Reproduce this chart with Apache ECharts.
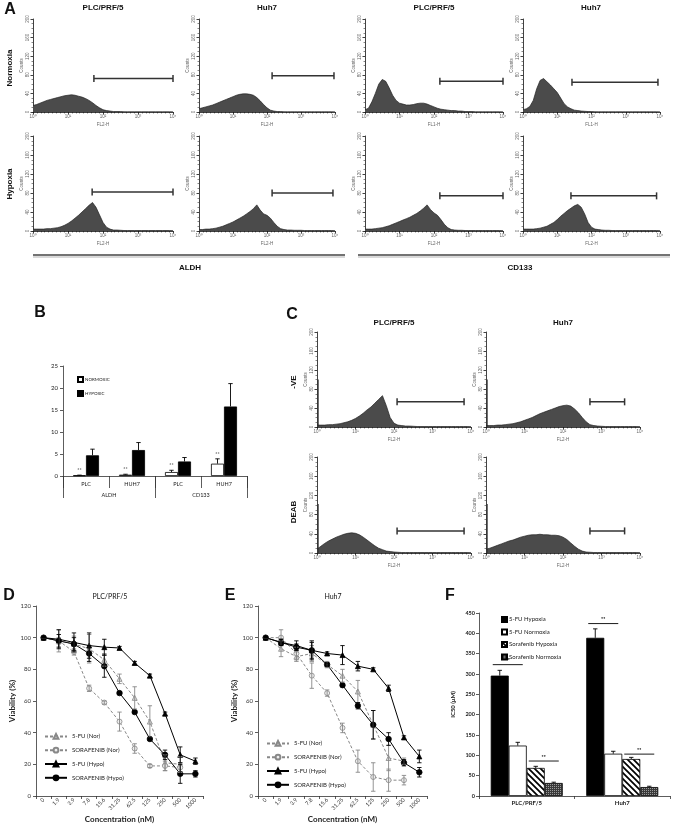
<!DOCTYPE html>
<html>
<head>
<meta charset="utf-8">
<title>Figure</title>
<script src="https://cdn.jsdelivr.net/npm/echarts@6/dist/echarts.min.js"></script>
<style>
  html, body { margin: 0; padding: 0; background: #fff; }
  #chart { width: 674px; height: 835px; }
</style>
</head>
<body>
<div id="chart"></div>
<script>
// ---------- data ----------
// histogram bins, in decades of fluorescence (10^0 .. 10^4)
const histX = [0, 0.1, 0.2, 0.3, 0.4, 0.5, 0.6, 0.7, 0.8, 0.9,
  1, 1.1, 1.2, 1.3, 1.4, 1.5, 1.6, 1.7, 1.8, 1.9,
  2, 2.1, 2.2, 2.3, 2.4, 2.5, 2.6, 2.7, 2.8, 2.9,
  3, 3.1, 3.2, 3.3, 3.4, 3.5, 3.6, 3.7, 3.8, 3.9, 4];

// panel A counts
const aPlcAldhNor = [14, 16, 19, 22, 25, 27, 29, 31, 33, 35, 36, 37, 36, 34, 32, 29, 25, 20, 14, 9,
  5, 3, 2, 1, 1, 1, 0.5, 0.5, 0.5, 0.5, 0.5, 0.5, 0.5, 0.5, 0.5, 0.5, 0.5, 0.5, 0.5, 0.5, 0.5];
const aHuhAldhNor = [7, 9, 11, 13, 15, 18, 21, 24, 27, 30, 33, 36, 38, 39, 39, 38, 36, 31, 24, 16,
  9, 4, 2, 1, 1, 0.5, 0.5, 0.5, 0.5, 0.5, 0.5, 0.5, 0.5, 0.5, 0.5, 0.5, 0.5, 0.5, 0.5, 0.5, 0.5];
const aPlcCdNor = [5, 8, 22, 40, 60, 70, 66, 52, 36, 25, 19, 17, 15, 15, 16, 18, 19, 19, 17, 14,
  11, 8, 6, 5, 4, 3, 3, 2, 2, 1, 1, 1, 0.5, 0.5, 0.5, 0.5, 0.5, 0.5, 0.5, 0.5, 0.5];
const aHuhCdNor = [5, 7, 12, 25, 50, 68, 72, 65, 58, 50, 42, 30, 18, 11, 7, 4, 3, 2, 1.5, 1,
  1, 0.5, 0.5, 0.5, 0.5, 0.5, 0.5, 0.5, 0.5, 0.5, 0.5, 0.5, 0.5, 0.5, 0.5, 0.5, 0.5, 0.5, 0.5, 0.5, 0.5];
const aPlcAldhHyp = [4, 4, 4, 4, 5, 5, 6, 7, 9, 12, 16, 21, 27, 33, 40, 47, 54, 60, 50, 34,
  18, 8, 4, 2, 2, 1.5, 1, 1, 1, 1, 1, 1, 1, 1, 1, 1, 1, 1, 1, 1, 1];
const aHuhAldhHyp = [3, 3, 4, 4, 5, 6, 8, 10, 13, 16, 19, 23, 27, 31, 36, 41, 47, 55, 44, 36,
  33, 27, 18, 10, 5, 3, 2, 2, 1.5, 1.5, 1.5, 1, 1, 1, 1, 1, 1, 1, 1, 1, 1];
const aPlcCdHyp = [4, 4, 4, 5, 6, 7, 9, 11, 14, 17, 20, 23, 26, 29, 33, 37, 42, 48, 55, 45,
  38, 33, 24, 14, 7, 3, 2, 1.5, 1.5, 1, 1, 1, 1, 1, 1, 1, 1, 1, 1, 1, 1];
const aHuhCdHyp = [4, 4, 4, 4, 5, 6, 8, 10, 14, 18, 24, 31, 37, 43, 48, 53, 56, 50, 36, 18,
  8, 4, 3, 2, 1.5, 1.5, 1, 1, 1, 1, 1, 1, 1, 1, 1, 1, 1, 1, 1, 1, 1];
// gates [from decade, to decade, height in counts]
const aGates = [[1.74, 4.0, 72], [2.15, 3.97, 78], [2.17, 4.0, 66], [1.43, 3.94, 64],
  [1.69, 4.0, 82], [2.15, 3.94, 80], [2.17, 4.0, 74], [1.4, 3.9, 74]];

// panel C counts
const cPlcNeg = [4, 4, 4, 5, 5, 6, 7, 9, 11, 14, 18, 23, 29, 36, 42, 50, 58, 66, 45, 20,
  8, 4, 3, 2, 2, 1.5, 1, 1, 1, 1, 1, 1, 1, 1, 1, 1, 1, 1, 1, 1, 1];
const cHuhNeg = [3, 3, 3, 4, 4, 5, 6, 7, 9, 11, 14, 17, 20, 24, 28, 31, 34, 37, 40, 43,
  45, 46, 44, 38, 30, 20, 11, 5, 3, 2, 1.5, 1, 1, 1, 1, 1, 1, 1, 1, 1, 1];
const cPlcDeab = [8, 14, 20, 25, 29, 33, 36, 39, 41, 42, 41, 38, 33, 27, 21, 15, 10, 7, 4, 3,
  2, 1.5, 1, 1, 1, 1, 1, 1, 1, 1, 1, 1, 1, 1, 1, 1, 1, 1, 1, 1, 1];
const cHuhDeab = [8, 10, 13, 16, 19, 22, 25, 27, 30, 33, 35, 37, 38, 38, 39, 38, 38, 37, 37, 36,
  33, 28, 21, 14, 8, 4, 2, 1.5, 1, 1, 1, 1, 1, 1, 1, 1, 1, 1, 1, 1, 1];
// events piled up in the first channel
const cFirstBin = [100, 100, 102, 102];
const cGates = [[2.08, 3.82, 53], [2.7, 3.6, 53], [2.08, 3.82, 46], [2.7, 3.6, 46]];

// panel B
const bCats = ['PLC', 'HUH7', 'PLC', 'HUH7'];
const bGroups = ['ALDH', 'CD133'];
const bNorm = [0.15, 0.3, 0.9, 2.8];
const bNormErr = [0.05, 0.1, 0.4, 1.1];
const bHyp = [4.7, 5.9, 3.3, 15.8];
const bHypErr = [1.4, 1.7, 0.9, 5.2];

// panels D and E
const concLabels = ['0', '1.9', '3.9', '7.8', '15.6', '31.25', '62.5', '125', '250', '500', '1000'];
const dFuNor = [100, 98, 96, 93, 86, 74, 62, 47, 21, 20, null];
const dFuNorErr = [0, 7, 5, 9, 4, 3, 7, 10, 5, 5, 0];
const dSoNor = [100, 98, 91, 68, 59, 47, 30, 19, 19, 18, null];
const dSoNorErr = [0, 2, 2, 2, 1, 6, 3, 1, 3, 3, 0];
const dFuHyp = [100, 99, 97, 95, 94, 93.5, 84, 76, 52, 26, 22];
const dFuHypErr = [0, 6, 6, 8, 5, 1, 1, 1, 1, 5, 2];
const dSoHyp = [100, 98, 96, 90, 82, 65, 53, 36, 26, 14, 14];
const dSoHypErr = [0, 4, 4, 5, 7, 1, 1, 1, 3, 6, 2];

const eFuNor = [100, 93, 88, 90, 83, 76, 66, 45, 24, 22, null];
const eFuNorErr = [0, 5, 3, 5, 2, 4, 7, 9, 8, 2, 0];
const eSoNor = [100, 100, 90, 76, 65, 43, 22, 12, 10, 10, null];
const eSoNorErr = [0, 5, 4, 8, 2, 3, 7, 9, 7, 3, 0];
const eFuHyp = [100, 97, 95, 92, 90, 89, 82, 80, 68, 37, 25];
const eFuHypErr = [0, 2, 3, 6, 1, 6, 3, 1, 2, 1, 4];
const eSoHyp = [100, 97, 94, 92, 83, 70, 57, 45, 36, 21, 15];
const eSoHypErr = [0, 2, 2, 5, 1, 1, 2, 9, 4, 2, 3];

// panel F
const fCats = ['PLC/PRF/5', 'Huh7'];
const fFuHyp = [296, 389];
const fFuHypErr = [13, 22];
const fFuNor = [124, 104];
const fFuNorErr = [8, 6];
const fSoHyp = [69, 91];
const fSoHypErr = [4, 4];
const fSoNor = [32, 22];
const fSoNorErr = [2, 2];
// significance bars [category, first bar, last bar, height]
const fSig = [[0, 0, 1, 323], [0, 2, 3, 86], [1, 0, 1, 424], [1, 2, 3, 103]];

// ---------- building ----------
const ARIAL = 'Liberation Sans, Arial, sans-serif';
const SANS = 'Lato, Open Sans, sans-serif';
const sup = ['\u2070', '\u00b9', '\u00b2', '\u00b3', '\u2074'];

const grids = [], xAxes = [], yAxes = [], series = [], legends = [], graphics = [];

function addGrid(left, top, width, height) {
  grids.push({ left, top, width, height, outerBoundsMode: 'none', containLabel: false });
  return grids.length - 1;
}
function addX(opt) { xAxes.push(opt); return xAxes.length - 1; }
function addY(opt) { yAxes.push(opt); return yAxes.length - 1; }

function addHist(left, top, width, height, counts, gate, xName, firstBin) {
  const gi = addGrid(left, top, width, height);
  const line = { color: '#111', width: 0.8 };
  const xi = addX({
    gridIndex: gi, type: 'value', min: 0, max: 4, interval: 1,
    name: xName, nameLocation: 'middle', nameGap: 10,
    nameTextStyle: { fontSize: 4.5, color: '#666', fontFamily: ARIAL },
    axisLine: { show: true, onZero: false, lineStyle: line },
    axisTick: { show: true, length: 2.5, lineStyle: line },
    minorTick: { show: true, splitNumber: 9, length: 1.5, lineStyle: { color: '#111', width: 0.5 } },
    axisLabel: { fontSize: 4.5, color: '#666', margin: 2.5, fontFamily: ARIAL, formatter: v => '10' + sup[v] },
    splitLine: { show: false }
  });
  const yi = addY({
    gridIndex: gi, type: 'value', min: 0, max: 200, interval: 40,
    name: 'Counts', nameLocation: 'middle', nameGap: 8,
    nameTextStyle: { fontSize: 4.5, color: '#666', fontFamily: ARIAL },
    axisLine: { show: true, lineStyle: line },
    axisTick: { show: true, length: 2.5, lineStyle: line },
    minorTick: { show: true, splitNumber: 4, length: 1.5, lineStyle: { color: '#111', width: 0.5 } },
    axisLabel: { fontSize: 4.5, color: '#666', margin: 2.5, rotate: 90, fontFamily: ARIAL },
    splitLine: { show: false }
  });
  series.push({
    type: 'line', xAxisIndex: xi, yAxisIndex: yi, silent: true,
    data: histX.map((x, i) => [x, counts[i]]),
    symbol: 'none', lineStyle: { color: '#222', width: 0.7 },
    areaStyle: { color: '#4b4b4b', opacity: 1 }
  });
  if (firstBin) {
    series.push({
      type: 'custom', xAxisIndex: xi, yAxisIndex: yi, silent: true, clip: false, z: 3,
      data: [[0, firstBin]],
      renderItem: (params, api) => {
        const b = api.coord([0, 0]), t = api.coord([0, api.value(1)]);
        return { type: 'line', shape: { x1: b[0] + 1, y1: b[1], x2: t[0] + 1, y2: t[1] },
          style: { stroke: '#333', lineWidth: 1.4 } };
      }
    });
  }
  series.push({
    type: 'custom', xAxisIndex: xi, yAxisIndex: yi, silent: true, clip: false, z: 4,
    data: [gate],
    renderItem: (params, api) => {
      const p1 = api.coord([api.value(0), api.value(2)]);
      const p2 = api.coord([api.value(1), api.value(2)]);
      const c = 3.5, st = { stroke: '#333', lineWidth: 1.5 };
      return {
        type: 'group', children: [
          { type: 'line', shape: { x1: p1[0], y1: p1[1], x2: p2[0], y2: p2[1] }, style: st },
          { type: 'line', shape: { x1: p1[0], y1: p1[1] - c, x2: p1[0], y2: p1[1] + c }, style: st },
          { type: 'line', shape: { x1: p2[0], y1: p2[1] - c, x2: p2[0], y2: p2[1] + c }, style: st }
        ]
      };
    }
  });
}

// error bars on a category axis; upOnly for bar charts; offset in px from category centre
function addErr(xi, yi, vals, errs, color, offset, upOnly, stars) {
  const data = [];
  vals.forEach((v, i) => {
    if (v == null) return;
    data.push([i, upOnly ? v : v - errs[i], v + errs[i]]);
  });
  series.push({
    type: 'custom', xAxisIndex: xi, yAxisIndex: yi, silent: true, clip: false, z: 6,
    encode: { x: 0, y: [1, 2] }, data,
    renderItem: (params, api) => {
      const lo = api.coord([api.value(0), api.value(1)]);
      const hi = api.coord([api.value(0), api.value(2)]);
      const x = lo[0] + offset, w = 2.2, st = { stroke: color, lineWidth: 0.9 };
      const kids = [
        { type: 'line', shape: { x1: x, y1: lo[1], x2: x, y2: hi[1] }, style: st },
        { type: 'line', shape: { x1: x - w, y1: hi[1], x2: x + w, y2: hi[1] }, style: st }
      ];
      if (!upOnly) kids.push({ type: 'line', shape: { x1: x - w, y1: lo[1], x2: x + w, y2: lo[1] }, style: st });
      if (stars) kids.push({ type: 'text', x: x, y: hi[1] - 2,
        style: { text: '**', font: '5px ' + SANS, fill: '#222', align: 'center', verticalAlign: 'bottom' } });
      return { type: 'group', children: kids };
    }
  });
}

// ---- panel A ----
const aCols = [[33, 140], [199, 136], [365, 138], [523, 137]];
const aRow1 = [aPlcAldhNor, aHuhAldhNor, aPlcCdNor, aHuhCdNor];
const aRow2 = [aPlcAldhHyp, aHuhAldhHyp, aPlcCdHyp, aHuhCdHyp];
aCols.forEach((c, i) => {
  addHist(c[0], 19, c[1], 93, aRow1[i], aGates[i], i < 2 ? 'FL2-H' : 'FL1-H');
  addHist(c[0], 136, c[1], 95, aRow2[i], aGates[i + 4], 'FL2-H');
});

// ---- panel C ----
const cCols = [[317, 154], [486, 154]];
addHist(cCols[0][0], 332, cCols[0][1], 95, cPlcNeg, cGates[0], 'FL2-H', cFirstBin[0]);
addHist(cCols[1][0], 332, cCols[1][1], 95, cHuhNeg, cGates[1], 'FL2-H', cFirstBin[1]);
addHist(cCols[0][0], 457, cCols[0][1], 96, cPlcDeab, cGates[2], 'FL2-H', cFirstBin[2]);
addHist(cCols[1][0], 457, cCols[1][1], 96, cHuhDeab, cGates[3], 'FL2-H', cFirstBin[3]);

// ---- panel B ----
(function () {
  const gi = addGrid(63, 366, 184, 110);
  const axLine = { color: '#333', width: 0.8 };
  const xi = addX({
    gridIndex: gi, type: 'category', data: bCats, position: 'bottom',
    axisLine: { show: true, lineStyle: axLine },
    axisTick: { show: true, length: 12, lineStyle: axLine },
    axisLabel: { fontSize: 5.5, color: '#222', margin: 5, interval: 0 }
  });
  addX({
    gridIndex: gi, type: 'category', data: bGroups, position: 'bottom',
    axisLine: { show: false },
    axisTick: { show: true, length: 22, lineStyle: axLine },
    axisLabel: { fontSize: 5.5, color: '#222', margin: 16, interval: 0 }
  });
  const yi = addY({
    gridIndex: gi, type: 'value', min: 0, max: 25, interval: 5,
    axisLine: { show: true, lineStyle: axLine },
    axisTick: { show: true, length: 3, lineStyle: axLine },
    axisLabel: { fontSize: 6, color: '#222', margin: 5 },
    splitLine: { show: false }
  });
  series.push({ type: 'bar', name: 'NORMOXIC', xAxisIndex: xi, yAxisIndex: yi, data: bNorm,
    barWidth: 13, barGap: '0%', itemStyle: { color: '#fff', borderColor: '#000', borderWidth: 0.8 } });
  series.push({ type: 'bar', name: 'HYPOXIC', xAxisIndex: xi, yAxisIndex: yi, data: bHyp,
    barWidth: 13, barGap: '0%', itemStyle: { color: '#000', borderColor: '#000', borderWidth: 0.8 } });
  addErr(xi, yi, bNorm, bNormErr, '#000', -6.5, true, true);
  addErr(xi, yi, bHyp, bHypErr, '#000', 6.5, true, false);
  legends.push({ left: 72, top: 371, orient: 'vertical', itemWidth: 5, itemHeight: 5, itemGap: 7,
    icon: 'rect', selectedMode: false, data: ['NORMOXIC', 'HYPOXIC'],
    textStyle: { fontSize: 4.5, color: '#222', padding: [0, 0, 0, -3] } });
})();

// ---- panels D and E ----
const curveNames = ['5-FU (Nor)', 'SORAFENIB (Nor)', '5-FU (Hypo)', 'SORAFENIB (Hypo)'];
function addCurves(left, width, vals, errs, legendTop) {
  const gi = addGrid(left, 606, width, 190);
  const axLine = { color: '#333', width: 0.8 };
  const xi = addX({
    gridIndex: gi, type: 'category', data: concLabels, boundaryGap: true,
    name: 'Concentration (nM)', nameLocation: 'middle', nameGap: 19,
    nameTextStyle: { fontSize: 8, fontWeight: 'bold', color: '#222' },
    axisLine: { show: true, lineStyle: axLine },
    axisTick: { show: true, length: 3, lineStyle: axLine },
    axisLabel: { rotate: 45, fontSize: 5.5, color: '#333', interval: 0, margin: 3 }
  });
  const yi = addY({
    gridIndex: gi, type: 'value', min: 0, max: 120, interval: 20,
    name: 'Viability (%)', nameLocation: 'middle', nameGap: 20,
    nameTextStyle: { fontSize: 8, fontWeight: 'bold', color: '#222' },
    axisLine: { show: true, lineStyle: axLine },
    axisTick: { show: true, length: 3, lineStyle: axLine },
    axisLabel: { fontSize: 6, color: '#333', margin: 5 },
    splitLine: { show: false }
  });
  const looks = [
    { symbol: 'triangle', size: 5, dash: [3, 2], line: '#888', fill: '#ddd' },
    { symbol: 'circle', size: 5, dash: [3, 2], line: '#888', fill: '#eee' },
    { symbol: 'triangle', size: 5, dash: 'solid', line: '#000', fill: '#000' },
    { symbol: 'circle', size: 5.5, dash: 'solid', line: '#000', fill: '#000' }
  ];
  curveNames.forEach((n, k) => {
    const lk = looks[k];
    series.push({
      type: 'line', name: n, xAxisIndex: xi, yAxisIndex: yi, data: vals[k],
      symbol: lk.symbol, symbolSize: lk.size, showSymbol: true, z: 3,
      lineStyle: { color: lk.line, width: 1, type: lk.dash },
      itemStyle: { color: lk.fill, borderColor: lk.line, borderWidth: 0.8 }
    });
    addErr(xi, yi, vals[k], errs[k], lk.line, 0, false, false);
  });
  legends.push({ left: left + 3, top: legendTop, orient: 'vertical', itemWidth: 22, itemHeight: 6, itemGap: 7,
    selectedMode: false, data: curveNames, textStyle: { fontSize: 6, color: '#222' } });
}
addCurves(36, 167, [dFuNor, dSoNor, dFuHyp, dSoHyp], [dFuNorErr, dSoNorErr, dFuHypErr, dSoHypErr], 728);
addCurves(258, 169, [eFuNor, eSoNor, eFuHyp, eSoHyp], [eFuNorErr, eSoNorErr, eFuHypErr, eSoHypErr], 735);

// ---- panel F ----
function stripes() {
  const c = document.createElement('canvas'); c.width = 6; c.height = 6;
  const g = c.getContext('2d');
  g.fillStyle = '#fff'; g.fillRect(0, 0, 6, 6);
  g.strokeStyle = '#000'; g.lineWidth = 1.7;
  g.beginPath();
  g.moveTo(-1, -1); g.lineTo(7, 7);
  g.moveTo(-4, 2); g.lineTo(4, 10);
  g.moveTo(2, -4); g.lineTo(10, 4);
  g.stroke();
  return c;
}
function checks() {
  const c = document.createElement('canvas'); c.width = 2; c.height = 2;
  const g = c.getContext('2d');
  g.fillStyle = '#3a3a3a'; g.fillRect(0, 0, 2, 2);
  g.fillStyle = '#9a9a9a'; g.fillRect(0, 0, 1, 1);
  return c;
}
(function () {
  const gi = addGrid(479, 613, 191, 183);
  const axLine = { color: '#333', width: 0.8 };
  const xi = addX({
    gridIndex: gi, type: 'category', data: fCats,
    axisLine: { show: true, lineStyle: axLine },
    axisTick: { show: true, length: 3, lineStyle: axLine },
    axisLabel: { fontSize: 6, fontWeight: 'bold', color: '#222', margin: 4 }
  });
  const yi = addY({
    gridIndex: gi, type: 'value', min: 0, max: 450, interval: 50,
    name: 'IC50 (\u03bcM)', nameLocation: 'middle', nameGap: 23,
    nameTextStyle: { fontSize: 6, fontWeight: 'bold', color: '#222' },
    axisLine: { show: true, lineStyle: axLine },
    axisTick: { show: true, length: 3, lineStyle: axLine },
    axisLabel: { fontSize: 5.5, fontWeight: 'bold', color: '#222', margin: 4 },
    splitLine: { show: false }
  });
  const fSeries = [
    ['5-FU Hypoxia', fFuHyp, fFuHypErr, '#000'],
    ['5-FU Normoxia', fFuNor, fFuNorErr, '#fff'],
    ['Sorafenib Hypoxia', fSoHyp, fSoHypErr, { image: stripes(), repeat: 'repeat' }],
    ['Sorafenib Normoxia', fSoNor, fSoNorErr, { image: checks(), repeat: 'repeat' }]
  ];
  fSeries.forEach((s, k) => {
    series.push({ type: 'bar', name: s[0], xAxisIndex: xi, yAxisIndex: yi, data: s[1],
      barWidth: 18, barGap: '0%', itemStyle: { color: s[3], borderColor: '#000', borderWidth: 0.8 } });
    addErr(xi, yi, s[1], s[2], '#000', (k - 1.5) * 18, true, false);
  });
  series.push({
    type: 'custom', xAxisIndex: xi, yAxisIndex: yi, silent: true, clip: false, z: 7,
    encode: { x: 0, y: 3 }, data: fSig,
    renderItem: (params, api) => {
      const p = api.coord([api.value(0), api.value(3)]);
      const x1 = p[0] + (api.value(1) - 2) * 18 + 2;
      const x2 = p[0] + (api.value(2) - 1) * 18 - 4;
      return { type: 'group', children: [
        { type: 'line', shape: { x1, y1: p[1], x2, y2: p[1] }, style: { stroke: '#000', lineWidth: 0.9 } },
        { type: 'text', x: (x1 + x2) / 2, y: p[1] - 1.5,
          style: { text: '**', font: 'bold 5px ' + SANS, fill: '#000', align: 'center', verticalAlign: 'bottom' } }
      ] };
    }
  });
  legends.push({ left: 496, top: 611, orient: 'vertical', itemWidth: 5, itemHeight: 5, itemGap: 5.5,
    icon: 'rect', selectedMode: false, data: fSeries.map(s => s[0]),
    textStyle: { fontSize: 6, color: '#222', padding: [0, 0, 0, -3] } });
})();

// ---------- labels and decorations ----------
function txt(x, y, text, font, rot) {
  return { type: 'text', x, y, rotation: rot || 0, silent: true,
    style: { text, font, fill: '#111', align: 'center', verticalAlign: 'middle' } };
}
function rule(x1, x2, y) {
  return [
    { type: 'line', silent: true, shape: { x1, y1: y + 2, x2, y2: y + 2 }, style: { stroke: '#ccc', lineWidth: 1.5 } },
    { type: 'line', silent: true, shape: { x1, y1: y, x2, y2: y }, style: { stroke: '#444', lineWidth: 1.5 } }
  ];
}
const letter = 'bold 16px ' + ARIAL;
const head = 'bold 8px ' + ARIAL;
graphics.push(txt(10, 10, 'A', letter));
graphics.push(txt(103, 8, 'PLC/PRF/5', head));
graphics.push(txt(267, 8, 'Huh7', head));
graphics.push(txt(434, 8, 'PLC/PRF/5', head));
graphics.push(txt(591, 8, 'Huh7', head));
graphics.push(txt(10, 68, 'Normoxia', head, Math.PI / 2));
graphics.push(txt(10, 184, 'Hypoxia', head, Math.PI / 2));
graphics.push(...rule(33, 345, 255), ...rule(358, 670, 255));
graphics.push(txt(190, 268, 'ALDH', head));
graphics.push(txt(520, 268, 'CD133', head));

graphics.push(txt(40, 313, 'B', letter));
graphics.push(txt(292, 315, 'C', letter));
graphics.push(txt(394, 323, 'PLC/PRF/5', head));
graphics.push(txt(563, 323, 'Huh7', head));
graphics.push(txt(294, 382, '-VE', head, Math.PI / 2));
graphics.push(txt(294, 512, 'DEAB', head, Math.PI / 2));

graphics.push(txt(9, 596, 'D', letter));
graphics.push(txt(230, 596, 'E', letter));
graphics.push(txt(450, 596, 'F', letter));
graphics.push(txt(110, 597, 'PLC/PRF/5', '7px ' + SANS));
graphics.push(txt(333, 597, 'Huh7', '7px ' + SANS));

const chart = echarts.init(document.getElementById('chart'), null, { renderer: 'canvas', width: 674, height: 835 });
chart.setOption({
  animation: false,
  backgroundColor: '#fff',
  textStyle: { fontFamily: SANS },
  grid: grids,
  xAxis: xAxes,
  yAxis: yAxes,
  legend: legends,
  series: series,
  graphic: graphics
});
</script>
</body>
</html>
